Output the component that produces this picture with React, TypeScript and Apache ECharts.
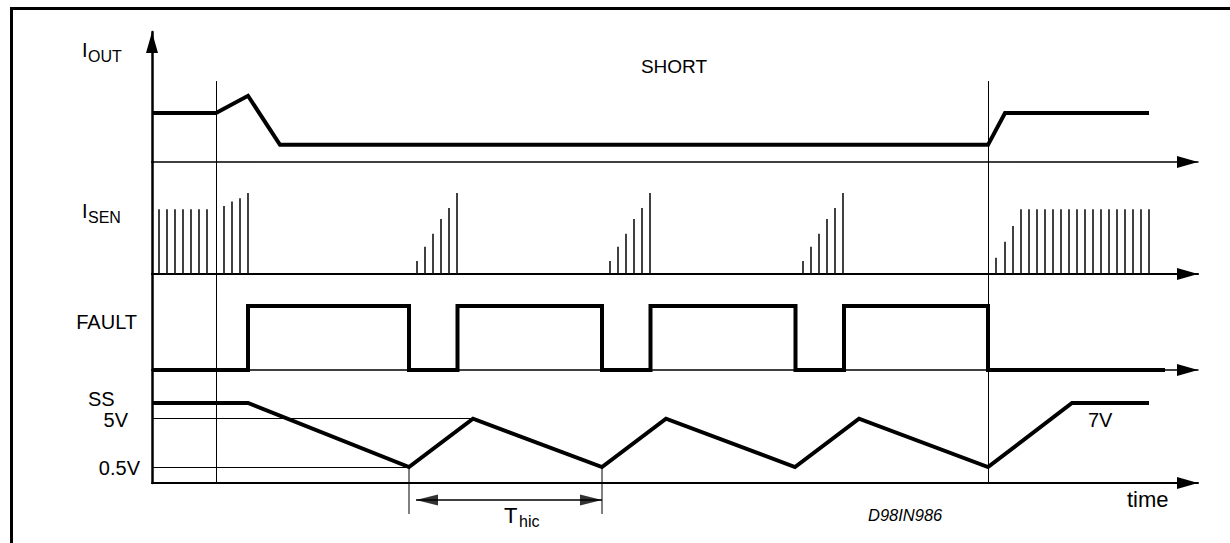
import React, { useEffect, useRef } from "react";
import * as echarts from "echarts";

// ---- data (time in arbitrary units along the shared time axis) ----
const TIME_MAX = 1046;
const markerTimes = [64, 836]; // short starts / short removed

// I_OUT trace (relative current)
const ioutTimes = [0, 64, 96, 128, 836, 853, 997];
const ioutValues = [1.0, 1.0, 1.35, 0.35, 0.35, 1.0, 1.0];

// I_SEN current-sense pulses
const isenTimes = [
  7, 15, 23, 31, 39, 47, 55, 72, 80, 88, 96,
  265, 273, 281, 289, 297, 305,
  458, 466, 474, 482, 490, 498,
  651, 659, 667, 675, 683, 691,
  844, 853, 861, 869, 877, 885, 893, 901, 909, 917, 925, 933, 941, 949, 957, 965, 973, 981, 989, 997,
];
const isenHeights = [
  1, 1, 1, 1, 1, 1, 1, 1.05, 1.12, 1.17, 1.25,
  0.2, 0.42, 0.62, 0.85, 1.02, 1.25,
  0.2, 0.42, 0.62, 0.85, 1.02, 1.25,
  0.2, 0.42, 0.62, 0.85, 1.02, 1.25,
  0.25, 0.5, 0.74, 1, 1, 1, 1, 1, 1, 1, 1, 1, 1, 1, 1, 1, 1, 1, 1, 1,
];

// FAULT logic level
const faultTimes = [0, 96, 96, 257, 257, 305.5, 305.5, 450, 450, 498.5, 498.5, 643.5, 643.5, 692, 692, 836, 836, 1013];
const faultValues = [0, 0, 1, 1, 0, 0, 1, 1, 0, 0, 1, 1, 0, 0, 1, 1, 0, 0];

// SS soft-start voltage (schematic levels)
const ssTimes = [0, 96, 257, 321, 450, 514, 643, 707, 836, 920, 997];
const ssValues = [8.0, 8.0, 1.6, 6.43, 1.6, 6.43, 1.6, 6.43, 1.6, 8.0, 8.0];
const ssRefLevels = [6.43, 1.6]; // 5V, 0.5V
const ssRefEnds = [321, 257];

// T_hic dimension
const thicStart = 257;
const thicEnd = 450;
const thicArrowLevel = -1.7;
const thicLineBottom = -3.1;

const yMaxes = [2.65, 1.73, 1.5, 11.3];
const xAxisWidths = [1.5, 2.2, 1.5, 2];

const FONT = "'Liberation Sans', Arial, Helvetica, sans-serif";

export default function App() {
  const ref = useRef<HTMLDivElement>(null);

  useEffect(() => {
    if (!ref.current) return;
    const chart = echarts.init(ref.current, undefined, { renderer: "svg" });

    const zip = (xs: number[], ys: number[]) => xs.map((x, i) => [x, ys[i]]);
    const black = "#000";

    const grids = [
      { left: 152, right: 32, top: 32, height: 130 },
      { left: 152, right: 32, top: 162, height: 112 },
      { left: 152, right: 32, top: 274, height: 96 },
      { left: 152, right: 32, top: 370, height: 113 },
    ];

    const xAxis = grids.map((_, i) => ({
      type: "value",
      gridIndex: i,
      min: 0,
      max: TIME_MAX,
      axisLabel: { show: false },
      axisTick: { show: false },
      splitLine: { show: false },
      axisLine: {
        show: true,
        onZero: false,
        symbol: ["none", "triangle"],
        symbolSize: [12, 21],
        symbolOffset: [0, -10.5],
        lineStyle: { color: black, width: xAxisWidths[i] },
      },
    }));

    const yAxis = grids.map((_, i) => ({
      type: "value",
      gridIndex: i,
      min: 0,
      max: yMaxes[i],
      axisLabel: { show: false },
      axisTick: { show: false },
      splitLine: { show: false },
      axisLine: {
        show: true,
        onZero: false,
        symbol: i === 0 ? ["none", "triangle"] : ["none", "none"],
        symbolSize: [12, 21],
        symbolOffset: [0, -10.5],
        lineStyle: { color: black, width: 2.5 },
      },
    }));

    const thinMark = (data: any[]) => ({
      silent: true,
      symbol: "none",
      label: { show: false },
      lineStyle: { color: black, width: 1, type: "solid" },
      emphasis: { disabled: true },
      data,
    });

    const thick = { color: black, width: 4, join: "miter", cap: "butt" };

    const series: any[] = [
      {
        type: "line",
        xAxisIndex: 0,
        yAxisIndex: 0,
        data: zip(ioutTimes, ioutValues),
        symbol: "none",
        lineStyle: thick,
        z: 5,
        markLine: thinMark(
          markerTimes.map((t) => [{ coord: [t, 1.65] }, { coord: [t, 0] }])
        ),
      },
      {
        type: "bar",
        xAxisIndex: 1,
        yAxisIndex: 1,
        data: zip(isenTimes, isenHeights),
        barWidth: 1.6,
        itemStyle: { color: "#111" },
        z: 5,
        markLine: thinMark(markerTimes.map((t) => ({ xAxis: t }))),
      },
      {
        type: "line",
        xAxisIndex: 2,
        yAxisIndex: 2,
        data: zip(faultTimes, faultValues),
        symbol: "none",
        lineStyle: thick,
        z: 5,
        markLine: thinMark(markerTimes.map((t) => ({ xAxis: t }))),
      },
      {
        type: "line",
        xAxisIndex: 3,
        yAxisIndex: 3,
        data: zip(ssTimes, ssValues),
        symbol: "none",
        lineStyle: thick,
        z: 5,
        markLine: thinMark([
          ...markerTimes.map((t) => ({ xAxis: t })),
          ...ssRefLevels.map((lv, i) => [{ coord: [0, lv] }, { coord: [ssRefEnds[i], lv] }]),
        ]),
      },
      // T_hic dimension lines
      ...[thicStart, thicEnd].map((t) => ({
        type: "line",
        xAxisIndex: 3,
        yAxisIndex: 3,
        clip: false,
        symbol: "none",
        data: [
          [t, ssValues[2]],
          [t, thicLineBottom],
        ],
        lineStyle: { color: black, width: 1 },
      })),
      {
        type: "line",
        xAxisIndex: 3,
        yAxisIndex: 3,
        clip: false,
        symbol: "none",
        data: [
          [thicStart + 7, thicArrowLevel],
          [thicEnd, thicArrowLevel],
        ],
        lineStyle: { color: black, width: 1.6 },
      },
      {
        type: "scatter",
        xAxisIndex: 3,
        yAxisIndex: 3,
        clip: false,
        symbol: "triangle",
        symbolSize: [11, 22],
        itemStyle: { color: black },
        data: [
          { value: [thicStart + 18, thicArrowLevel], symbolRotate: 90 },
          { value: [thicEnd - 11, thicArrowLevel], symbolRotate: -90 },
        ],
      },
    ];

    const txt = (text: string, x: number, y: number, size: number, align = "left", extra: any = {}) => ({
      type: "text",
      x,
      y,
      silent: true,
      style: {
        text,
        fontSize: size,
        fontFamily: FONT,
        fill: black,
        align,
        verticalAlign: "middle",
        ...extra,
      },
    });

    const graphic = [
      { type: "line", silent: true, shape: { x1: 10, y1: 8.5, x2: 1230, y2: 8.5 }, style: { stroke: black, lineWidth: 3 } },
      { type: "line", silent: true, shape: { x1: 11.5, y1: 7, x2: 11.5, y2: 543 }, style: { stroke: black, lineWidth: 3 } },
      txt("I", 82, 50, 20),
      txt("OUT", 88, 56, 16),
      txt("SHORT", 674, 66, 19, "center"),
      txt("I", 82, 211, 20),
      txt("SEN", 88, 217, 16),
      txt("FAULT", 137, 322, 20, "right"),
      txt("SS", 88, 399, 20),
      txt("5V", 128, 420, 20, "right"),
      txt("0.5V", 140, 468, 20, "right"),
      txt("7V", 1088, 420, 20),
      txt("time", 1127, 499, 22),
      txt("D98IN986", 868, 515, 16.5, "left", { fontStyle: "italic" }),
      txt("T", 504, 515, 22),
      txt("hic", 519, 521, 16),
    ];

    chart.setOption({
      animation: false,
      backgroundColor: "#fff",
      grid: grids,
      xAxis,
      yAxis,
      series,
      graphic,
    });

    return () => chart.dispose();
  }, []);

  return (
    <div
      ref={ref}
      style={{ position: "fixed", left: 0, top: 0, width: 1230, height: 543, background: "#fff" }}
    />
  );
}
